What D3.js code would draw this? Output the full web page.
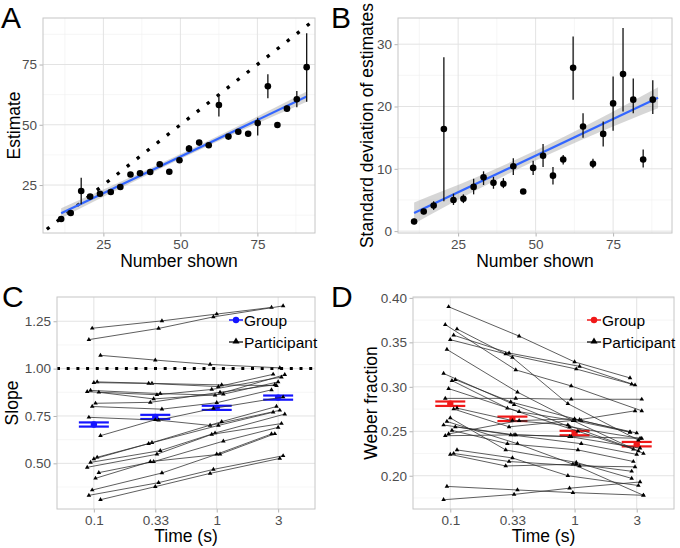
<!DOCTYPE html>
<html><head><meta charset="utf-8">
<script src="https://cdn.jsdelivr.net/npm/d3@7"></script>
<style>
body{margin:0;background:#fff}
text{font-family:"Liberation Sans",Arial,Helvetica,sans-serif}
</style>
</head><body>
<svg id="chart" width="680" height="548"></svg>
<script>
// ---------- Panel A: estimate vs number shown ----------
const aX = [11.3,14.4,17.8,20.7,23.9,27.4,30.5,33.8,36.9,40.2,43.3,46.4,49.7,52.8,56.1,59.2,62.5,65.6,68.8,72.0,75.1,78.4,81.5,84.6,87.8,91.0];
const aY = [10.9,13.4,22.5,20.2,21.4,22.1,24.2,29.4,29.9,30.4,33.6,30.5,35.3,40.1,42.6,41.5,58.2,45.1,47.1,46.3,50.7,66.0,49.9,56.7,60.6,73.9];
const aLo = [10.2,12.7,17.0,19.5,20.7,21.4,23.5,28.6,29.1,29.7,32.9,29.8,34.5,38.6,41.9,40.8,53.4,44.3,46.3,45.6,45.5,61.0,49.2,55.5,57.3,59.6];
const aHi = [11.6,14.1,28.0,20.9,22.1,22.8,24.9,30.2,30.7,31.1,34.3,31.2,36.1,41.6,43.3,42.2,62.8,45.9,47.9,47.0,52.9,71.0,50.6,58.0,64.0,88.0];
const aFitX = [11.3, 91.0];
const aFitY = [13.3, 61.7];
const aBandX = [11.3,21.3,31.3,41.3,51.2,61.2,71.1,81.1,91.0];
const aBandHalf = [2.1,1.65,1.3,1.08,1.02,1.1,1.3,1.65,2.1];
const aXTicks = [25,50,75], aYTicks = [25,50,75];

// ---------- Panel B: SD of estimates ----------
const bX = [10.8,13.9,17.1,20.4,23.5,26.7,30.0,33.2,36.4,39.6,42.8,46.0,49.2,52.4,55.6,58.9,62.1,65.3,68.5,71.8,75.0,78.2,81.5,84.7,87.8];
const bY = [1.55,3.15,4.1,16.4,5.0,5.2,7.1,8.65,7.75,7.6,10.4,6.35,10.15,12.1,8.9,11.5,26.2,16.8,10.8,15.6,20.5,25.2,21.1,11.5,21.1];
const bLo = [1.1,2.7,3.4,4.8,4.2,4.5,5.9,7.4,6.8,6.9,9.0,6.0,9.0,10.3,7.5,10.7,21.1,15.0,10.1,13.6,16.1,19.2,18.9,10.2,18.8];
const bHi = [2.0,3.6,4.8,27.9,6.0,5.9,8.4,9.6,8.7,8.5,11.7,6.7,11.3,14.0,10.3,12.2,31.25,18.9,11.6,17.6,24.8,32.6,24.5,13.1,24.2];
const bFitX = [10.8, 89.5];
const bFitY = [2.9, 21.4];
const bBandX = [10.8,20.6,30.5,40.3,50.2,60.0,69.8,79.7,89.5];
const bBandHalf = [1.7,1.35,1.05,0.87,0.8,0.87,1.05,1.35,1.7];
const bXTicks = [25,50,75], bYTicks = [0,10,20,30];

// ---------- Panels C and D: per time ----------
const times = ["0.1","0.33","1","3"];
const cGroup = [0.705,0.745,0.793,0.847];
const cGroupSe = [0.011,0.011,0.011,0.011];
const cParticipants = [
  [1.213,1.252,1.288,1.323],
  [1.153,1.212,1.273,1.331],
  [1.070,1.045,1.022,1.004],
  [0.930,0.922,0.914,0.910],
  [0.926,0.922,0.905,0.970],
  [0.885,0.868,0.860,0.968],
  [0.878,0.862,0.890,0.955],
  [0.875,0.840,0.865,0.930],
  [0.817,0.822,0.875,0.915],
  [0.800,0.786,0.820,0.888],
  [0.743,0.728,0.790,0.850],
  [0.646,0.730,0.700,0.780],
  [0.532,0.609,0.720,0.800],
  [0.523,0.604,0.700,0.770],
  [0.505,0.567,0.660,0.760],
  [0.479,0.548,0.653,0.710],
  [0.451,0.509,0.617,0.690],
  [0.421,0.509,0.548,0.656],
  [0.359,0.449,0.548,0.655],
  [0.331,0.398,0.468,0.540],
  [0.308,0.377,0.447,0.526]
];
const cYTicks = [0.50,0.75,1.00,1.25];

const dGroup = [0.281,0.264,0.248,0.2355];
const dGroupSe = [0.0025,0.0025,0.0025,0.0025];
const dParticipants = [
  [0.390,0.357,0.328,0.310],
  [0.370,0.319,0.301,0.273],
  [0.365,0.333,0.281,0.240],
  [0.358,0.338,0.323,0.302],
  [0.353,0.337,0.320,0.303],
  [0.342,0.294,0.262,0.225],
  [0.315,0.280,0.255,0.242],
  [0.308,0.283,0.262,0.248],
  [0.307,0.276,0.250,0.230],
  [0.298,0.272,0.262,0.249],
  [0.287,0.287,0.286,0.286],
  [0.276,0.262,0.257,0.228],
  [0.275,0.255,0.263,0.273],
  [0.265,0.229,0.215,0.197],
  [0.261,0.236,0.213,0.178],
  [0.257,0.246,0.244,0.231],
  [0.255,0.246,0.236,0.224],
  [0.251,0.236,0.229,0.216],
  [0.247,0.262,0.264,0.249],
  [0.245,0.246,0.244,0.242],
  [0.229,0.220,0.200,0.189],
  [0.225,0.216,0.211,0.210],
  [0.224,0.211,0.213,0.205],
  [0.188,0.184,0.181,0.178],
  [0.173,0.179,0.186,0.193]
];
const dYTicks = [0.20,0.25,0.30,0.35,0.40];

// ---------- drawing ----------
const svg = d3.select("#chart");
const FONT_TICK = 13.5, FONT_TITLE = 17.5;
let clipId = 0;

function drawFrame(box, x, y, xMajor, xMinor, yMajor, yMinor) {
  const g = svg.append("g");
  g.append("rect").attr("x", box.l).attr("y", box.t).attr("width", box.r - box.l).attr("height", box.b - box.t).attr("fill", "#fff");
  const minor = g.append("g").attr("stroke", "#f0f0f0").attr("stroke-width", 0.6);
  xMinor.forEach(v => minor.append("line").attr("x1", x(v)).attr("x2", x(v)).attr("y1", box.t).attr("y2", box.b));
  yMinor.forEach(v => minor.append("line").attr("y1", y(v)).attr("y2", y(v)).attr("x1", box.l).attr("x2", box.r));
  const major = g.append("g").attr("stroke", "#e3e3e3").attr("stroke-width", 1);
  xMajor.forEach(v => major.append("line").attr("x1", x(v)).attr("x2", x(v)).attr("y1", box.t).attr("y2", box.b));
  yMajor.forEach(v => major.append("line").attr("y1", y(v)).attr("y2", y(v)).attr("x1", box.l).attr("x2", box.r));
  const id = "clip" + (clipId++);
  svg.append("clipPath").attr("id", id).append("rect").attr("x", box.l).attr("y", box.t).attr("width", box.r - box.l).attr("height", box.b - box.t);
  return svg.append("g").attr("clip-path", `url(#${id})`);
}

function drawAxes(box, x, y, xTicks, xFmt, yTicks, yFmt) {
  const ax = svg.append("g").attr("transform", `translate(0,${box.b})`)
    .call(d3.axisBottom(x).tickValues(xTicks).tickFormat(xFmt).tickSize(3.5).tickPadding(2.5));
  const ay = svg.append("g").attr("transform", `translate(${box.l},0)`)
    .call(d3.axisLeft(y).tickValues(yTicks).tickFormat(yFmt).tickSize(3.5).tickPadding(2.5));
  [ax, ay].forEach(a => {
    a.select(".domain").remove();
    a.selectAll("line").attr("stroke", "#b3b3b3");
    a.selectAll("text").attr("fill", "#4d4d4d").style("font-size", FONT_TICK + "px").style("font-family", '"Liberation Sans",Arial,sans-serif');
  });
  svg.append("rect").attr("x", box.l).attr("y", box.t).attr("width", box.r - box.l).attr("height", box.b - box.t)
    .attr("fill", "none").attr("stroke", "#c6c6c6").attr("stroke-width", 1);
}

function titles(box, xTitle, yTitle, yBase, letter, lx, ly, xBase) {
  svg.append("text").attr("x", (box.l + box.r) / 2).attr("y", xBase).attr("text-anchor", "middle")
    .style("font-size", FONT_TITLE + "px").attr("fill", "#000").text(xTitle);
  svg.append("text").attr("transform", `translate(${yBase},${(box.t + box.b) / 2}) rotate(-90)`).attr("text-anchor", "middle")
    .style("font-size", FONT_TITLE + "px").attr("fill", "#000").text(yTitle);
  svg.append("text").attr("x", lx).attr("y", ly).style("font-size", "30px").attr("fill", "#000").text(letter);
}

function scatterPanel(box, xDom, yDom, X, Y, Lo, Hi, fitX, fitY, bandX, bandHalf, xTicks, yTicks, xMinor, yMinor, identity) {
  const x = d3.scaleLinear().domain(xDom).range([box.l, box.r]);
  const y = d3.scaleLinear().domain(yDom).range([box.b, box.t]);
  const g = drawFrame(box, x, y, xTicks, xMinor, yTicks, yMinor);
  if (identity) {
    const lo = Math.max(xDom[0], yDom[0]) - 2, hi = Math.min(xDom[1], yDom[1]) + 2;
    g.append("line").attr("x1", x(lo)).attr("y1", y(lo)).attr("x2", x(hi)).attr("y2", y(hi))
      .attr("stroke", "#000").attr("stroke-width", 3.3).attr("stroke-dasharray", "3.3,9.4");
  }
  const slope = (fitY[1] - fitY[0]) / (fitX[1] - fitX[0]);
  const fit = v => fitY[0] + (v - fitX[0]) * slope;
  const band = d3.area().curve(d3.curveMonotoneX)
    .x((d, i) => x(bandX[i])).y0((d, i) => y(fit(bandX[i]) - bandHalf[i])).y1((d, i) => y(fit(bandX[i]) + bandHalf[i]));
  g.append("path").datum(bandX).attr("d", band).attr("fill", "#999").attr("fill-opacity", 0.4);
  g.append("line").attr("x1", x(fitX[0])).attr("y1", y(fitY[0])).attr("x2", x(fitX[1])).attr("y2", y(fitY[1]))
    .attr("stroke", "#3366ff").attr("stroke-width", 2.2);
  g.selectAll(".eb").data(X).join("line").attr("x1", d => x(d)).attr("x2", d => x(d))
    .attr("y1", (d, i) => y(Lo[i])).attr("y2", (d, i) => y(Hi[i])).attr("stroke", "#111").attr("stroke-width", 1.3);
  g.selectAll(".pt").data(X).join("circle").attr("cx", d => x(d)).attr("cy", (d, i) => y(Y[i])).attr("r", 3.3).attr("fill", "#000");
  drawAxes(box, x, y, xTicks, d3.format("d"), yTicks, d3.format("d"));
}

// A
const boxA = {l: 43, r: 315, t: 18, b: 233};
scatterPanel(boxA, [5.4, 93.7], [5.1, 94.3], aX, aY, aLo, aHi, aFitX, aFitY, aBandX, aBandHalf,
  aXTicks, aYTicks, [12.5, 37.5, 62.5, 87.5], [12.5, 37.5, 62.5, 87.5], true);
titles(boxA, "Number shown", "Estimate", 20, "A", 1, 28, 267);

// B
const boxB = {l: 398, r: 672, t: 18, b: 233};
scatterPanel(boxB, [5.6, 94], [-0.3, 34.2], bX, bY, bLo, bHi, bFitX, bFitY, bBandX, bBandHalf,
  bXTicks, bYTicks, [12.5, 37.5, 62.5, 87.5], [5, 15, 25], false);
titles(boxB, "Number shown", "Standard deviation of estimates", 373, "B", 331, 28, 267);

// C and D
const jit = (i, t) => ((((i * 7 + t * 5 + 3) % 9) - 4) * 0.027);
const tri = d3.symbol(d3.symbolTriangle, 9);

function timePanel(box, yDom, group, groupSe, parts, color, yTicks, yMinor, yFmt, refLine, legX) {
  const x = d3.scaleLinear().domain([-0.6, 3.6]).range([box.l, box.r]);
  const y = d3.scaleLinear().domain(yDom).range([box.b, box.t]);
  const g = drawFrame(box, x, y, [0, 1, 2, 3], [], yTicks, yMinor);
  if (refLine !== null) {
    g.append("line").attr("x1", box.l).attr("x2", box.r).attr("y1", y(refLine)).attr("y2", y(refLine))
      .attr("stroke", "#000").attr("stroke-width", 3).attr("stroke-dasharray", "3,6.7");
  }
  // group means with error bars
  const gg = g.append("g");
  group.forEach((m, t) => {
    const cx = x(t);
    gg.append("line").attr("x1", cx).attr("x2", cx).attr("y1", y(m - groupSe[t])).attr("y2", y(m + groupSe[t])).attr("stroke", color).attr("stroke-width", 2);
    [m - groupSe[t], m + groupSe[t]].forEach(v =>
      gg.append("line").attr("x1", cx - 15).attr("x2", cx + 15).attr("y1", y(v)).attr("y2", y(v)).attr("stroke", color).attr("stroke-width", 2.2));
    gg.append("circle").attr("cx", cx).attr("cy", y(m)).attr("r", 3.2).attr("fill", color);
  });
  // participants
  const pg = g.append("g");
  parts.forEach((p, i) => {
    const line = d3.line().x((v, t) => x(t + jit(i, t))).y(v => y(v));
    pg.append("path").datum(p).attr("d", line).attr("fill", "none").attr("stroke", "#2b2b2b").attr("stroke-width", 0.9).attr("stroke-opacity", 0.85);
    p.forEach((v, t) => pg.append("path").attr("d", tri).attr("transform", `translate(${x(t + jit(i, t))},${y(v)})`).attr("fill", "#000"));
  });
  drawAxes(box, x, y, [0, 1, 2, 3], i => times[i], yTicks, yFmt);
  // legend
  const lg = svg.append("g");
  lg.append("line").attr("x1", legX - 7).attr("x2", legX + 7).attr("y1", 320).attr("y2", 320).attr("stroke", color).attr("stroke-width", 1.5);
  lg.append("circle").attr("cx", legX).attr("cy", 320).attr("r", 3.2).attr("fill", color);
  lg.append("text").attr("x", legX + 8).attr("y", 325.8).style("font-size", "15.5px").attr("fill", "#000").text("Group");
  lg.append("line").attr("x1", legX - 7).attr("x2", legX + 7).attr("y1", 342).attr("y2", 342).attr("stroke", "#000").attr("stroke-width", 1.2);
  lg.append("path").attr("d", d3.symbol(d3.symbolTriangle, 22)).attr("transform", `translate(${legX},341.5)`).attr("fill", "#000");
  lg.append("text").attr("x", legX + 8).attr("y", 347.8).style("font-size", "15.5px").attr("fill", "#000").text("Participant");
}

const boxC = {l: 57, r: 315, t: 297, b: 509};
timePanel(boxC, [0.259, 1.378], cGroup, cGroupSe, cParticipants, "#1414ff", cYTicks, [0.375, 0.625, 0.875, 1.125], d3.format(".2f"), 1.0, 236);
titles(boxC, "Time (s)", "Slope", 17.5, "C", 2, 307, 542);

const boxD = {l: 413, r: 674, t: 297, b: 509};
timePanel(boxD, [0.1626, 0.401], dGroup, dGroupSe, dParticipants, "#f01818", dYTicks, [0.175, 0.225, 0.275, 0.325, 0.375], d3.format(".2f"), null, 594);
titles(boxD, "Time (s)", "Weber fraction", 377, "D", 331, 307, 542);
</script>
</body></html>
